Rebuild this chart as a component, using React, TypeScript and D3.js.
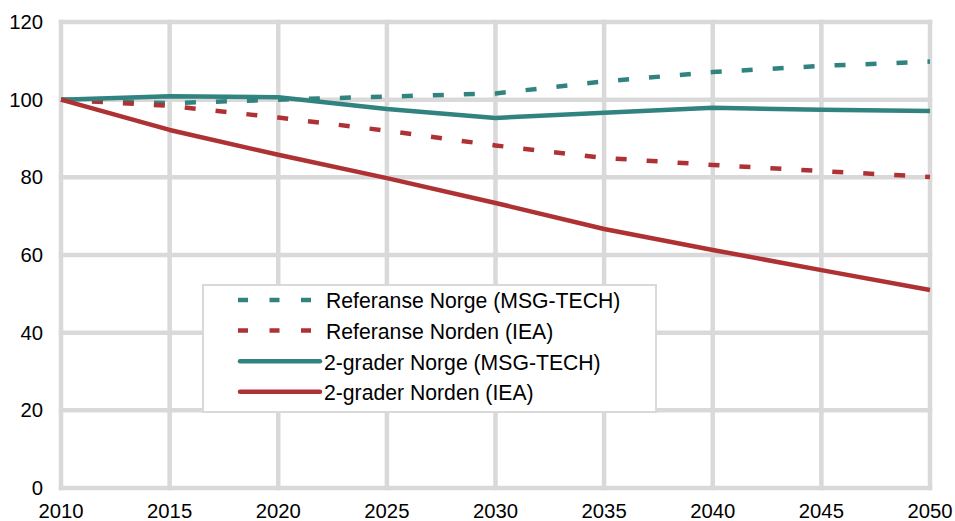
import React from "react";
import * as d3 from "d3";

const years = [2010, 2015, 2020, 2025, 2030, 2035, 2040, 2045, 2050];
const refNorge = [100, 99.1, 100, 100.8, 101.6, 104.7, 107.1, 108.7, 109.8];
const refNorden = [100, 98.4, 95.4, 92.0, 88.2, 85.0, 83.2, 81.6, 80.1];
const togNorge = [100, 100.9, 100.6, 97.6, 95.3, 96.6, 97.9, 97.4, 97.1];
const togNorden = [100, 92.2, 85.8, 79.8, 73.4, 66.7, 61.3, 56.1, 51.0];
const yTicks = [0, 20, 40, 60, 80, 100, 120];
const seriesNames = [
  "Referanse Norge (MSG-TECH)",
  "Referanse Norden (IEA)",
  "2-grader Norge (MSG-TECH)",
  "2-grader Norden (IEA)",
];

const TEAL = "#31837f";
const RED = "#ae3234";
const GRID = "#d9d9d9";

export default function App() {
  const W = 955, H = 521;
  const x = d3.scaleLinear().domain([2010, 2050]).range([61, 930]);
  const y = d3.scaleLinear().domain([0, 120]).range([488, 22]);
  const line = d3
    .line<number>()
    .x((_, i) => x(years[i]))
    .y((d) => y(d));

  const series = [
    { name: seriesNames[0], data: refNorge, color: TEAL, dash: "11 20" },
    { name: seriesNames[1], data: refNorden, color: RED, dash: "11 20" },
    { name: seriesNames[2], data: togNorge, color: TEAL, dash: null },
    { name: seriesNames[3], data: togNorden, color: RED, dash: null },
  ];

  const font = "Arial, 'Liberation Sans', sans-serif";
  const legX = 203, legY = 285, legW = 453, legH = 127;
  const rowY0 = 301, rowStep = 30.6;

  return (
    <svg
      width={W}
      height={H}
      style={{ position: "absolute", left: 0, top: 0, background: "#fff" }}
      fontFamily={font}
    >
      {yTicks.map((t) => (
        <line key={"h" + t} x1={x(2010)} x2={x(2050)} y1={y(t)} y2={y(t)} stroke={GRID} strokeWidth={4.5} strokeLinecap="square" />
      ))}
      {years.map((yr) => (
        <line key={"v" + yr} x1={x(yr)} x2={x(yr)} y1={y(120)} y2={y(0)} stroke={GRID} strokeWidth={4.5} strokeLinecap="square" />
      ))}
      {yTicks.map((t) => (
        <text key={"yl" + t} x={43} y={y(t)} dy="0.35em" textAnchor="end" fontSize={20.3} fill="#000">
          {t}
        </text>
      ))}
      {years.map((yr) => (
        <text key={"xl" + yr} x={x(yr)} y={518} textAnchor="middle" fontSize={20.3} fill="#000">
          {yr}
        </text>
      ))}
      {series.map((s) => (
        <path
          key={s.name}
          d={line(s.data) || ""}
          fill="none"
          stroke={s.color}
          strokeWidth={4.5}
          strokeDasharray={s.dash || undefined}
          strokeLinejoin="round"
        />
      ))}
      <rect x={legX} y={legY} width={legW} height={legH} fill="#fff" stroke={GRID} strokeWidth={2} />
      {series.map((s, i) => {
        const ry = rowY0 + i * rowStep;
        return (
          <g key={"lg" + i}>
            <line
              x1={s.dash ? 238 : 240}
              x2={320}
              y1={ry - 1}
              y2={ry - 1}
              stroke={s.color}
              strokeWidth={4.5}
              strokeDasharray={s.dash ? "10 21.5" : undefined}
              strokeLinecap={s.dash ? "butt" : "round"}
            />
            <text x={s.dash ? 326 : 324} y={ry} dy="0.35em" fontSize={21.2} fill="#000">
              {s.name}
            </text>
          </g>
        );
      })}
    </svg>
  );
}
